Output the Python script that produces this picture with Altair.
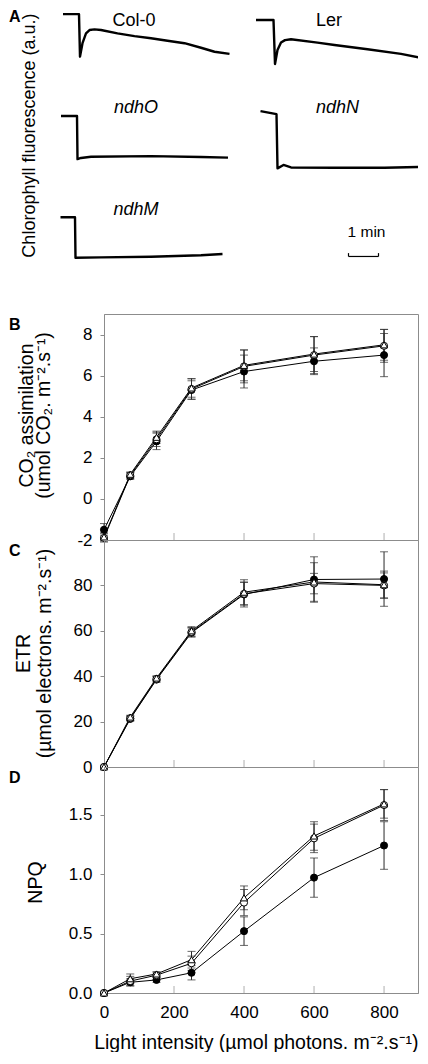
import altair as alt
import pandas as pd

FONT = "Liberation Sans"
FRAME = "#8c8c8c"
ERR = "#2a2a2a"

# ---------------- Panel A: fluorescence traces (time in s, fluorescence in a.u.) ----------------
# left column
col0_t = [4, 36, 38, 43, 50, 57, 67, 80, 113, 147, 180, 213, 247, 280, 307, 337]
col0_f = [9.80, 9.80, 8.41, 8.85, 9.17, 9.28, 9.30, 9.28, 9.17, 9.08, 9.01, 8.93, 8.85, 8.70, 8.57, 8.50]
ndhO_t = [0, 32, 33, 40, 60, 180, 280, 334]
ndhO_f = [6.47, 6.47, 5.06, 5.10, 5.14, 5.16, 5.13, 5.11]
ndhM_t = [-1, 28, 29, 80, 180, 280, 323]
ndhM_f = [3.16, 3.16, 1.84, 1.85, 1.87, 1.92, 1.96]
# right column
ler_t = [-6, 29, 32, 37, 44, 52, 64, 117, 151, 217, 284, 327]
ler_f = [9.61, 9.61, 8.17, 8.63, 8.87, 8.95, 8.98, 8.87, 8.79, 8.65, 8.50, 8.36]
ndhN_t = [3, 35, 37, 49, 64, 151, 251, 334]
ndhN_f = [6.63, 6.53, 4.76, 4.87, 4.79, 4.78, 4.78, 4.81]

# trace labels
wt_names = ["Col-0", "Ler"]
wt_t = [146, 140]
wt_f = [9.88, 9.88]
mut_left_names = ["ndhO", "ndhM"]
mut_left_t = [150, 150]
mut_left_f = [6.73, 3.40]
mut_right_names = ["ndhN"]
mut_right_t = [157]
mut_right_f = [6.73]

# 1 min scale bar (right column time axis)
scalebar_start = 179
scalebar_len = 60
scalebar_f = 1.88
scalebar_tip = 1.99
scalebar_label = "1 min"

# ---------------- Panels B-D: light response ----------------
light = [0, 75, 150, 250, 400, 600, 800]
series_names = ["closed circles", "open circles", "open triangles"]

co2_closed = [-1.5, 1.1, 2.8, 5.3, 6.2, 6.7, 7.0]
co2_open = [-1.9, 1.15, 2.9, 5.35, 6.45, 7.0, 7.45]
co2_tri = [-1.85, 1.2, 3.0, 5.4, 6.5, 7.05, 7.5]
co2_closed_err = [0.3, 0.15, 0.4, 0.45, 0.8, 0.65, 1.05]
co2_open_err = [0.2, 0.15, 0.35, 0.5, 0.8, 0.9, 0.8]
co2_tri_err = [0.2, 0.1, 0.3, 0.45, 0.75, 0.85, 0.75]

etr_closed = [0, 21.2, 38.5, 59.2, 76.0, 82.6, 82.8]
etr_open = [0, 21.5, 38.8, 59.5, 76.3, 80.8, 80.0]
etr_tri = [0, 22.0, 39.2, 60.0, 77.0, 81.5, 80.3]
etr_closed_err = [0.3, 1.0, 1.2, 2.0, 5.5, 10.0, 12.0]
etr_open_err = [0.3, 1.0, 1.0, 2.0, 5.0, 4.5, 5.5]
etr_tri_err = [0.3, 0.8, 1.0, 1.8, 5.5, 8.5, 6.0]

npq_closed = [0, 0.09, 0.11, 0.17, 0.52, 0.97, 1.24]
npq_open = [0, 0.10, 0.15, 0.25, 0.76, 1.30, 1.58]
npq_tri = [0, 0.12, 0.16, 0.28, 0.80, 1.32, 1.59]
npq_closed_err = [0.005, 0.03, 0.02, 0.06, 0.12, 0.165, 0.2]
npq_open_err = [0.005, 0.04, 0.02, 0.06, 0.11, 0.12, 0.13]
npq_tri_err = [0.005, 0.04, 0.02, 0.07, 0.10, 0.12, 0.12]

x_ticks = [0, 200, 400, 600, 800]
inner_ticks = [200, 400, 600, 800]


def trace_df(named):
    rows = []
    for name, ts, fs in named:
        for i, (t, f) in enumerate(zip(ts, fs)):
            rows.append({"trace": name, "i": i, "t": t, "f": f})
    return pd.DataFrame(rows)


def long_df(vals, errs):
    rows = []
    for s, v_list, e_list in zip(series_names, vals, errs):
        for x, v, e in zip(light, v_list, e_list):
            rows.append({"series": s, "light": x, "value": v, "lo": v - e, "hi": v + e})
    return pd.DataFrame(rows)


# ---------------- Panel A chart ----------------
left_df = trace_df([("Col-0", col0_t, col0_f), ("ndhO", ndhO_t, ndhO_f), ("ndhM", ndhM_t, ndhM_f)])
right_df = trace_df([("Ler", ler_t, ler_f), ("ndhN", ndhN_t, ndhN_f)])

xL = alt.Scale(domain=[86, 714], nice=False, zero=False)
xR = alt.Scale(domain=[-310, 318], nice=False, zero=False)
yA = alt.Scale(domain=[0, 10], nice=False, zero=False)
yA_axis = alt.Axis(title="Chlorophyll fluorescence (a.u.)", labels=False, ticks=False, domain=False,
                   grid=False, titleX=-70, titleY=5, titleAngle=270, titleAlign="right",
                   titleBaseline="alphabetic", titleFontSize=18, titleFontWeight="normal")


def YA(field):
    return alt.Y(field, scale=yA, axis=yA_axis)


left_lines = alt.Chart(left_df).mark_line(color="black", strokeWidth=2.4, strokeJoin="round").encode(
    x=alt.X("t:Q", scale=xL, axis=None), y=YA("f:Q"), detail="trace:N", order="i:Q")
right_lines = alt.Chart(right_df).mark_line(color="black", strokeWidth=2.4, strokeJoin="round",
                                            clip=True).encode(
    x=alt.X("t:Q", scale=xR, axis=None), y=YA("f:Q"), detail="trace:N", order="i:Q")

wt_left = alt.Chart(pd.DataFrame({"name": [wt_names[0]], "t": [wt_t[0]], "f": [wt_f[0]]})).mark_text(
    fontSize=18, baseline="top", align="center").encode(
    x=alt.X("t:Q", scale=xL, axis=None), y=YA("f:Q"), text="name:N")
wt_right = alt.Chart(pd.DataFrame({"name": [wt_names[1]], "t": [wt_t[1]], "f": [wt_f[1]]})).mark_text(
    fontSize=18, baseline="top", align="center").encode(
    x=alt.X("t:Q", scale=xR, axis=None), y=YA("f:Q"), text="name:N")
mut_left = alt.Chart(pd.DataFrame({"name": mut_left_names, "t": mut_left_t, "f": mut_left_f})).mark_text(
    fontSize=18, fontStyle="italic", baseline="middle", align="center").encode(
    x=alt.X("t:Q", scale=xL, axis=None), y=YA("f:Q"), text="name:N")
mut_right = alt.Chart(pd.DataFrame({"name": mut_right_names, "t": mut_right_t, "f": mut_right_f})).mark_text(
    fontSize=18, fontStyle="italic", baseline="middle", align="center").encode(
    x=alt.X("t:Q", scale=xR, axis=None), y=YA("f:Q"), text="name:N")

sb = pd.DataFrame({"t0": [scalebar_start], "t1": [scalebar_start + scalebar_len],
                   "f": [scalebar_f], "ftip": [scalebar_tip],
                   "tm": [scalebar_start + scalebar_len / 2 + 6], "fl": [2.68],
                   "label": [scalebar_label]})
sb_h = alt.Chart(sb).mark_rule(color="black", strokeWidth=1.2).encode(
    x=alt.X("t0:Q", scale=xR, axis=None), x2="t1:Q", y=YA("f:Q"))
sb_v0 = alt.Chart(sb).mark_rule(color="black", strokeWidth=1.2).encode(
    x=alt.X("t0:Q", scale=xR, axis=None), y=YA("f:Q"), y2="ftip:Q")
sb_v1 = alt.Chart(sb).mark_rule(color="black", strokeWidth=1.2).encode(
    x=alt.X("t1:Q", scale=xR, axis=None), y=YA("f:Q"), y2="ftip:Q")
sb_txt = alt.Chart(sb).mark_text(fontSize=15.5, baseline="middle", align="center").encode(
    x=alt.X("tm:Q", scale=xR, axis=None), y=YA("fl:Q"), text="label:N")

letter_a = alt.Chart(pd.DataFrame({"letter": ["A"]})).mark_text(
    align="left", baseline="top", fontSize=16, fontWeight="bold").encode(
    text="letter:N", x=alt.value(-95), y=alt.value(1))

panel_a = alt.layer(left_lines, right_lines, wt_left, wt_right, mut_left, mut_right,
                    sb_h, sb_v0, sb_v1, sb_txt, letter_a).resolve_scale(x="independent").properties(
    width=314, height=306, view=alt.ViewBackground(strokeOpacity=0))

# ---------------- Panels B-D ----------------
xscale = alt.Scale(domain=[0, 897], nice=False, zero=False)


def make_panel(df, ydom, yvals, ytitle, title_x, title_y, line_h, letter, xaxis, height,
               yfmt=None, ylabelexpr=None):
    yscale = alt.Scale(domain=ydom, nice=False, zero=False)
    ax = dict(values=yvals, title=ytitle, titleX=title_x, titleY=title_y, titleAngle=270,
              titleAlign="center", titleBaseline="alphabetic", titleFontSize=19.5,
              titleFontWeight="normal", titleLineHeight=line_h, labelFontSize=17, labelPadding=8,
              tickSize=4, tickColor=FRAME, domainColor=FRAME, grid=False, labelOverlap=False)
    if yfmt:
        ax["format"] = yfmt
    if ylabelexpr:
        ax["labelExpr"] = ylabelexpr
    yaxis = alt.Axis(**ax)

    def X(f):
        return alt.X(f, scale=xscale, axis=xaxis)

    def Y(f):
        return alt.Y(f, scale=yscale, axis=yaxis)

    base = alt.Chart(df)
    lines = base.mark_line(color="black", strokeWidth=1, strokeJoin="round").encode(
        x=X("light:Q"), y=Y("value:Q"), detail="series:N")
    bars = base.mark_rule(color=ERR, strokeWidth=1).encode(x=X("light:Q"), y=Y("lo:Q"), y2="hi:Q")
    cap_lo = base.mark_tick(orient="horizontal", size=8, thickness=1, color=ERR).encode(
        x=X("light:Q"), y=Y("lo:Q"))
    cap_hi = base.mark_tick(orient="horizontal", size=8, thickness=1, color=ERR).encode(
        x=X("light:Q"), y=Y("hi:Q"))
    ticks = alt.Chart(pd.DataFrame({"tick": inner_ticks})).mark_tick(
        orient="vertical", size=7, thickness=1, color=FRAME, yOffset=-3.5).encode(
        x=X("tick:Q"), y=alt.Y(datum=ydom[0], type="quantitative", scale=yscale, axis=yaxis))
    pts = base.mark_point(filled=True, stroke="black", strokeWidth=1, opacity=1, size=50).encode(
        x=X("light:Q"), y=Y("value:Q"),
        shape=alt.Shape("series:N", scale=alt.Scale(domain=series_names,
                                                    range=["circle", "circle", "triangle-up"]),
                        legend=None),
        fill=alt.Fill("series:N", scale=alt.Scale(domain=series_names,
                                                  range=["black", "white", "white"]),
                      legend=None))
    let = alt.Chart(pd.DataFrame({"letter": [letter]})).mark_text(
        align="left", baseline="top", fontSize=16, fontWeight="bold").encode(
        text="letter:N", x=alt.value(-95), y=alt.value(3))
    return alt.layer(lines, bars, cap_lo, cap_hi, ticks, pts, let).properties(width=314, height=height)


co2_df = long_df([co2_closed, co2_open, co2_tri], [co2_closed_err, co2_open_err, co2_tri_err])
etr_df = long_df([etr_closed, etr_open, etr_tri], [etr_closed_err, etr_open_err, etr_tri_err])
npq_df = long_df([npq_closed, npq_open, npq_tri], [npq_closed_err, npq_open_err, npq_tri_err])

x_axis_d = alt.Axis(values=x_ticks, format="d", labelFontSize=17, labelPadding=11, labelFlush=False,
                    labelOverlap=False, ticks=False, tickSize=0, domainColor=FRAME, grid=False,
                    title="Light intensity (µmol photons. m⁻².s⁻¹)", titleFontSize=19.5,
                    titleFontWeight="normal", titleX=314, titleY=40, titleBaseline="top",
                    titleAlign="right")

panel_b = make_panel(co2_df, [-2, 9], [-2, 0, 2, 4, 6, 8],
                     ["CO₂ assimilation", "(umol CO₂. m⁻².s⁻¹)"], -71.3, 101, 17, "B", None, 226,
                     ylabelexpr="datum.value < 0 ? '-' + format(-datum.value, 'd') : format(datum.value, 'd')")
panel_c = make_panel(etr_df, [0, 100], [0, 20, 40, 60, 80],
                     ["ETR", "(µmol electrons. m⁻².s⁻¹)"], -74.7, 113, 21, "C", None, 227)
panel_d = make_panel(npq_df, [0, 1.9], [0, 0.5, 1.0, 1.5], "NPQ", -62.3, 115, 21, "D", x_axis_d, 226,
                     yfmt=".1f")

chart = alt.vconcat(panel_a, panel_b, panel_c, panel_d, spacing=0, bounds="flush").properties(
    padding=0
).configure(font=FONT).configure_view(stroke=FRAME, strokeWidth=1).configure_axis(
    labelFont=FONT, titleFont=FONT, labelColor="black", titleColor="black"
).configure_text(font=FONT, color="black")

chart.save("out.html", embed_options={"renderer": "svg", "actions": False})
